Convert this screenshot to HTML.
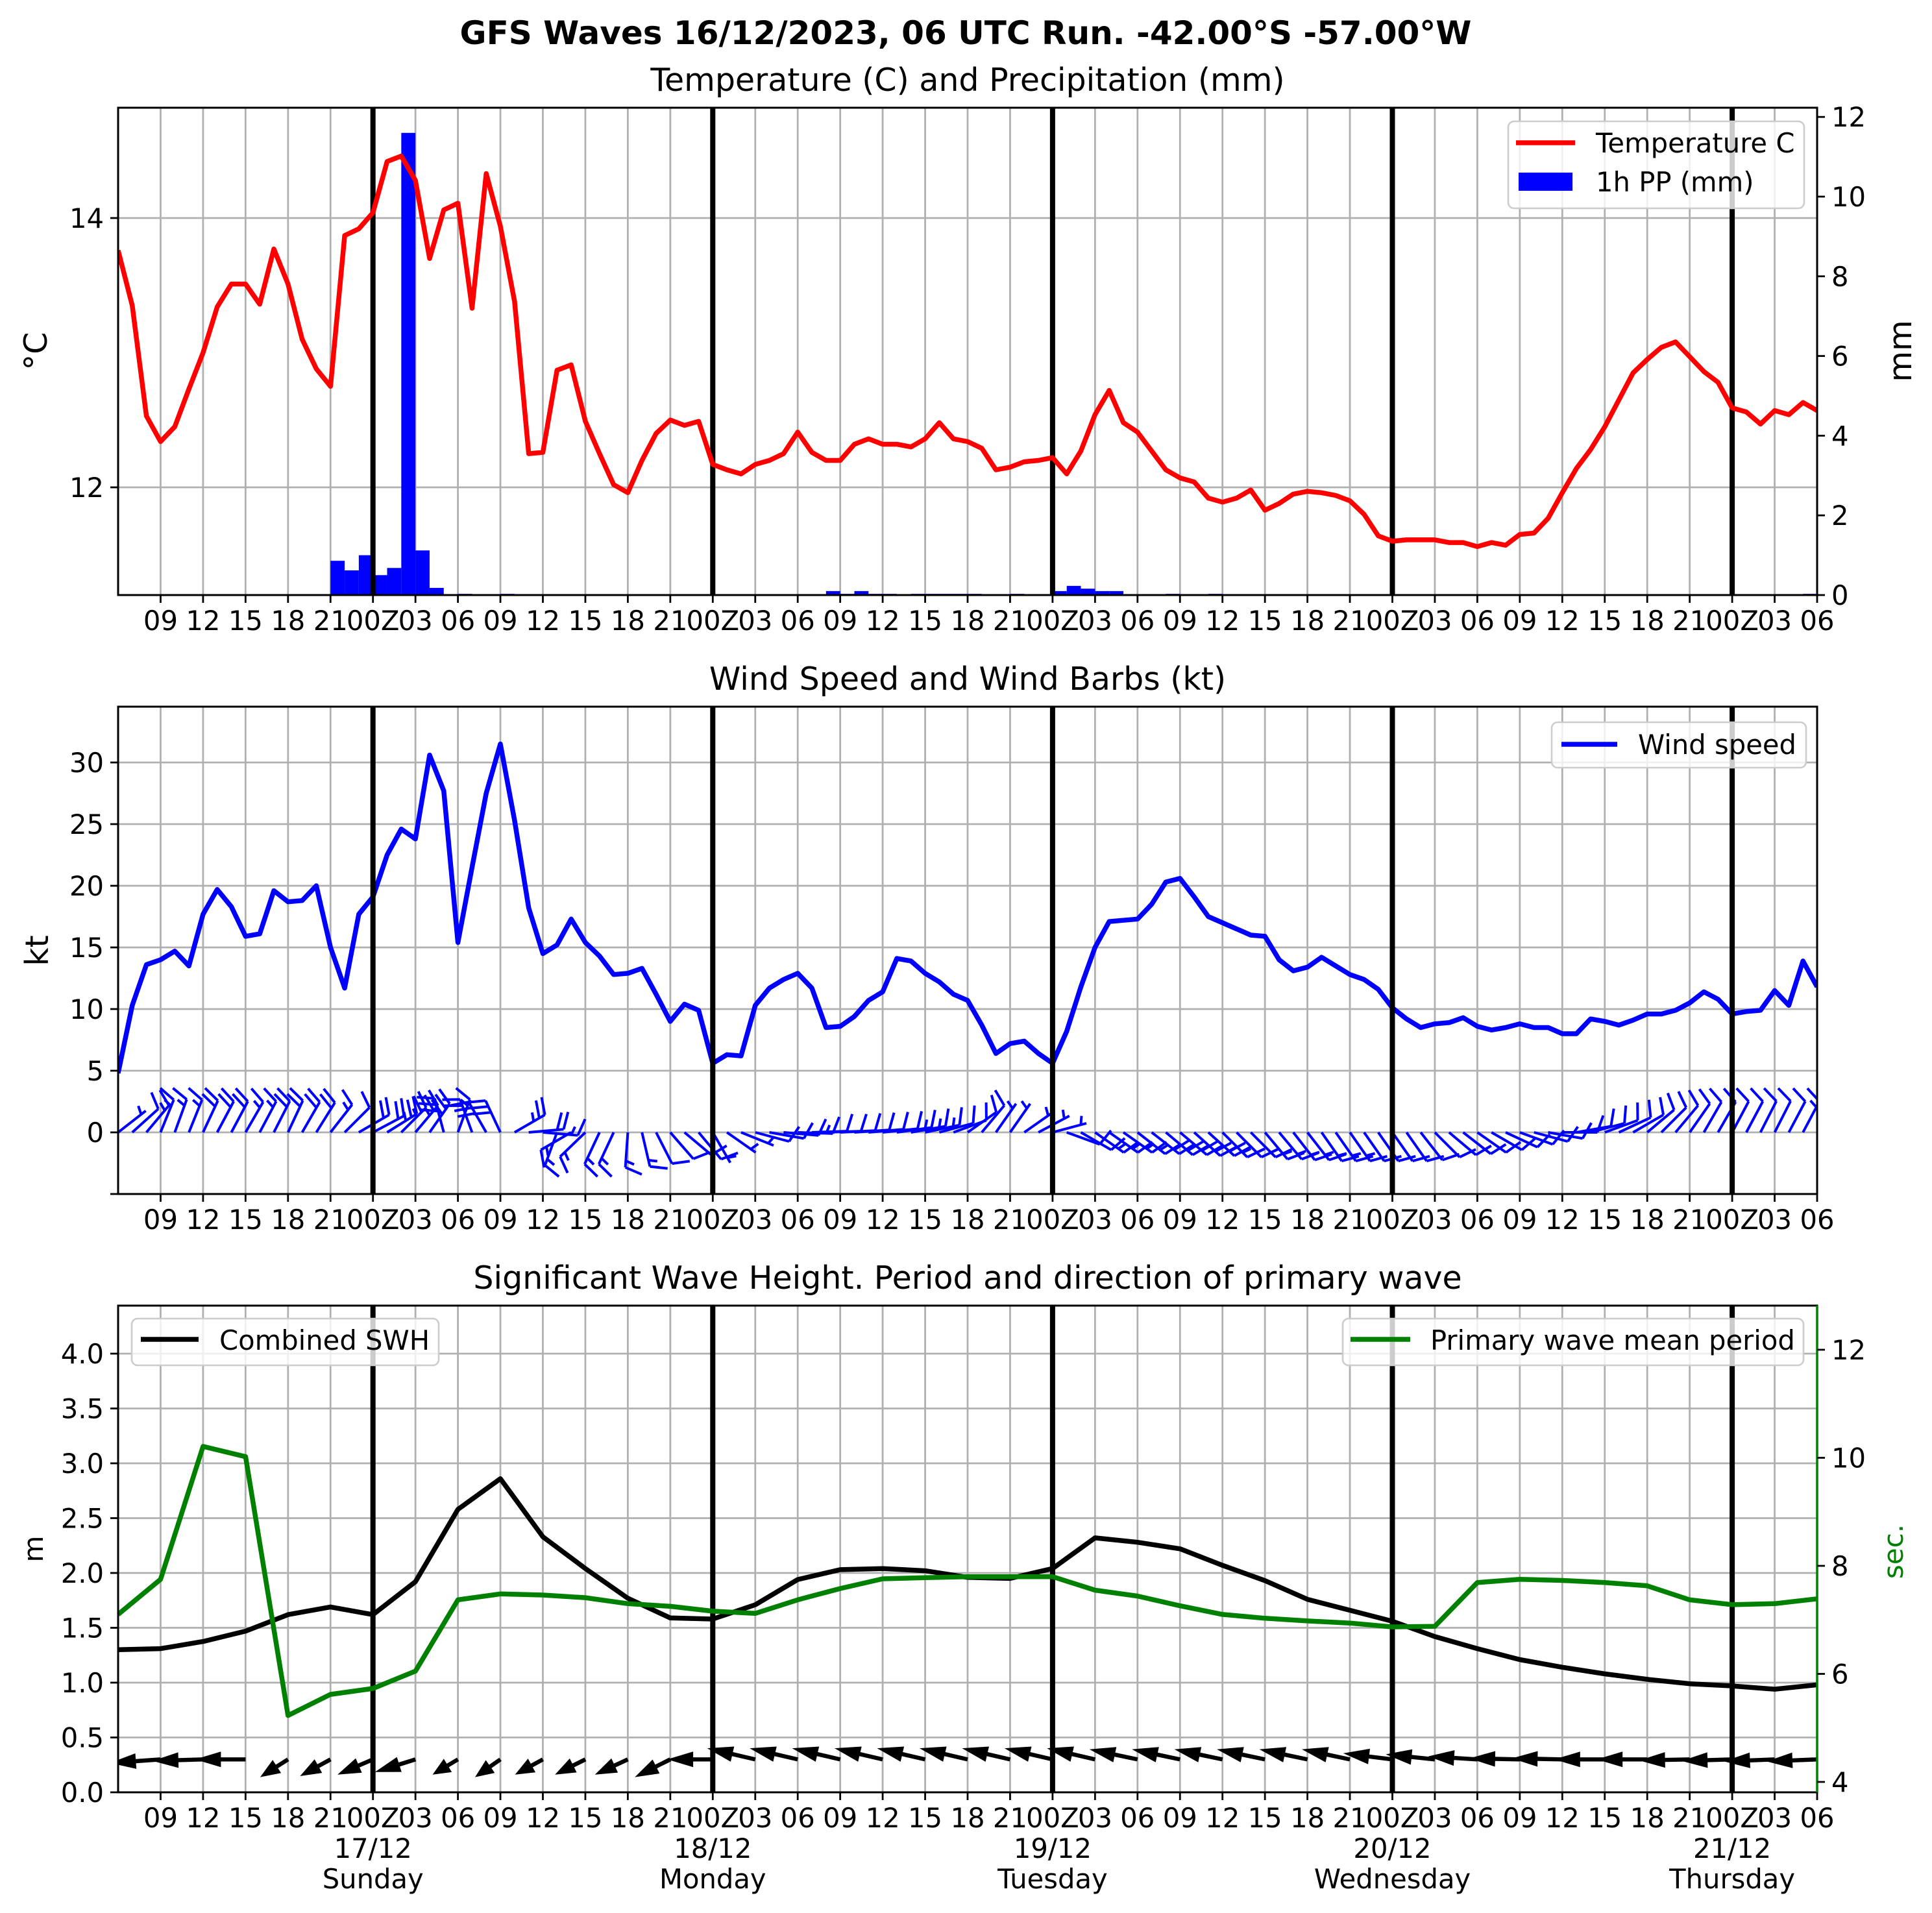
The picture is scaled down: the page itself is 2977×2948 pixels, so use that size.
<!DOCTYPE html>
<html><head><meta charset="utf-8"><style>
html,body{margin:0;padding:0;background:#fff;}
svg{display:block;font-family:"DejaVu Sans","Liberation Sans",sans-serif;}
</style></head>
<body>
<svg id="fig" xmlns="http://www.w3.org/2000/svg" width="2977" height="2948" viewBox="0 0 2977 2948">
<rect x="0" y="0" width="2977" height="2948" fill="#fff"/>
<text x="1488" y="68" text-anchor="middle" font-size="50" font-weight="bold">GFS Waves 16/12/2023, 06 UTC Run. -42.00°S -57.00°W</text>
<text x="1491" y="140" text-anchor="middle" font-size="49">Temperature (C) and Precipitation (mm)</text>
<text x="1491" y="1063" text-anchor="middle" font-size="49">Wind Speed and Wind Barbs (kt)</text>
<text x="1491" y="1986" text-anchor="middle" font-size="49">Significant Wave Height. Period and direction of primary wave</text>
<text transform="translate(72,541) rotate(-90)" text-anchor="middle" font-size="49">°C</text>
<text transform="translate(2945,541) rotate(-90)" text-anchor="middle" font-size="49">mm</text>
<text transform="translate(74,1465) rotate(-90)" text-anchor="middle" font-size="49">kt</text>
<text transform="translate(66,2387) rotate(-90)" text-anchor="middle" font-size="42">m</text>
<text transform="translate(2932,2391) rotate(-90)" text-anchor="middle" font-size="42" fill="#008000">sec.</text>
<defs>
<clipPath id="c1"><rect x="182" y="166" width="2618" height="751"/></clipPath>
<clipPath id="c2"><rect x="182" y="1089" width="2618" height="751"/></clipPath>
<clipPath id="c3"><rect x="182" y="2012" width="2618" height="750"/></clipPath>
</defs>
<g id="g1" clip-path="url(#c1)"></g>
<g id="g2" clip-path="url(#c2)"></g>
<g id="g3" clip-path="url(#c3)"></g>
<g id="axes"></g>
</svg>
<script>
// ---------- data ----------
const temps = [13.76,13.35,12.53,12.34,12.45,12.73,13.0,13.34,13.51,13.51,13.36,13.77,13.51,13.10,12.88,12.75,13.87,13.92,14.04,14.42,14.46,14.28,13.70,14.06,14.11,13.33,14.33,13.94,13.38,12.25,12.26,12.87,12.91,12.49,12.25,12.02,11.96,
12.2,12.40,12.50,12.46,12.49,12.17,12.13,12.10,12.17,12.20,12.25,12.41,12.26,12.20,12.20,12.32,12.36,12.32,12.32,12.30,12.36,12.48,12.36,12.34,12.29,12.13,12.15,12.19,12.20,12.22,12.10,12.27,12.54,12.72,12.48,12.41,12.27,12.13,12.07,12.04,11.92,11.89,
11.92,11.98,11.83,11.88,11.95,11.97,11.96,11.94,11.90,11.80,11.64,11.60,11.61,11.61,11.61,11.59,11.59,11.56,11.59,11.57,11.65,11.66,11.77,11.96,12.14,12.28,12.45,12.65,12.85,12.95,13.04,13.08,12.97,12.86,12.78,12.59,12.56,12.47,12.57,12.54,12.63,12.57];
const precipHours = [15,16,17,18,19,20,21,22,24,27,50,51,52,53,54,56,57,58,59,60,63,66,67,68,69,70,74,77,119];
const precipVals = [0.86,0.62,1.0,0.5,0.68,11.6,1.12,0.18,0.03,0.03,0.1,0.03,0.1,0.03,0.03,0.03,0.03,0.03,0.03,0.03,0.03,0.1,0.23,0.16,0.1,0.1,0.03,0.03,0.03];
const windSpeed = [4.8,10.3,13.6,14.0,14.7,13.5,17.7,19.7,18.3,15.9,16.1,19.6,18.7,18.8,20.0,15.0,11.7,17.7,19.1,22.5,24.6,23.8,30.6,27.7,15.4,21.5,27.5,31.5,25.3,18.2,14.5,15.2,17.3,15.4,14.3,12.8,12.9,13.3,
11.2,9.0,10.4,9.9,5.6,6.3,6.2,10.3,11.7,12.4,12.9,11.7,8.5,8.6,9.4,10.7,11.4,14.1,13.9,12.9,12.2,11.2,10.7,8.7,6.4,7.2,7.4,6.4,5.6,8.2,11.8,15.0,17.1,17.2,17.3,18.5,20.3,20.6,19.1,17.5,17.0,16.5,16.0,15.9,14.0,13.1,13.4,14.2,13.5,12.8,12.4,11.6,10.1,9.2,8.5,8.8,8.9,9.3,8.6,8.3,8.5,8.8,8.5,8.5,8.0,8.0,9.2,9.0,8.7,9.1,9.6,9.6,9.9,10.5,11.4,10.8,9.6,9.8,9.9,11.5,10.3,13.9,11.8];
const windDir = [52,48,40,
22,20,22,25,28,28,30,28,27,25,30,32,38,45,
60,62,58,45,40,35,
345,20,340,330,335,
60,85,95,
200,240,226,205,205,184,167,153,139,130,140,150,125,112,105,100,95,92,
88,88,87,86,85,84,82,80,78,75,
70,55,40,35,35,55,62,75,110,120,
125,125,125,128,128,130,130,132,132,135,135,135,
140,140,142,142,145,145,145,145,145,145,145,142,
135,130,128,125,120,115,110,105,100,
90,80,75,70,65,60,50,45,40,35,
30,30,28,28,27,27,28,28,30];
const waveHeight = [1.30,1.31,1.375,1.47,1.62,1.69,1.62,1.92,2.58,2.86,2.33,2.04,1.77,1.59,1.58,1.71,1.94,2.03,2.04,2.02,1.96,1.95,2.04,2.32,2.28,2.22,2.07,1.93,1.76,1.66,1.56,1.42,1.31,1.21,1.14,1.08,1.03,0.99,0.97,0.94,0.98];
const wavePeriod = [7.10,7.75,10.21,10.02,5.23,5.62,5.73,6.05,7.37,7.48,7.46,7.41,7.30,7.25,7.16,7.12,7.37,7.58,7.76,7.78,7.8,7.8,7.8,7.55,7.44,7.26,7.1,7.03,6.98,6.94,6.87,6.88,7.69,7.75,7.73,7.69,7.63,7.37,7.28,7.30,7.39];
const waveU = [-1,-1,-1,-1,-0.55,-0.6,-0.7,-0.8,-0.5,-0.5,-0.55,-0.6,-0.65,-0.7,-0.9,-0.95,-0.95,-0.95,-0.95,-0.95,-0.95,-0.95,-0.95,-0.95,-0.95,-0.95,-0.95,-0.95,-0.95,-0.95,-0.97,-0.97,-0.97,-1,-1,-1,-1,-1,-1,-1,-1];
const waveV = [-0.08,-0.07,-0.03,0,-0.35,-0.33,-0.3,-0.25,-0.3,-0.35,-0.3,-0.3,-0.3,-0.35,0,0.22,0.22,0.22,0.22,0.22,0.22,0.22,0.22,0.22,0.2,0.2,0.2,0.2,0.2,0.2,0.12,0.1,0.06,0.02,0.02,0.0,0.0,-0.02,-0.03,-0.04,-0.04];
const xTickLabels = ["","09","12","15","18","21","00Z","03","06","09","12","15","18","21","00Z","03","06","09","12","15","18","21","00Z","03","06","09","12","15","18","21","00Z","03","06","09","12","15","18","21","00Z","03","06"];
const dayLabels = ["17/12","18/12","19/12","20/12","21/12"];
const dayNames = ["Sunday","Monday","Tuesday","Wednesday","Thursday"];
const tempTicks = [12,14];
const mmTicks = [0,2,4,6,8,10,12];
const ktTicks = [0,5,10,15,20,25,30];
const mTicks = [0.0,0.5,1.0,1.5,2.0,2.5,3.0,3.5,4.0];
const secTicks = [4,6,8,10,12];

// ---------- scales ----------
const X0=182, X1=2800, HRS=120;
function sx(h){return X0+(X1-X0)*h/HRS;}
function yT(t){return 336+(14-t)*207.5;}
function yP(mm){return 917-mm*61.4;}
function yW(k){return 1745-k*19;}
function yM(m){return 2762-m*169;}
function yS(s){return 2746-(s-4)*83.25;}
const P=[{top:166,bot:917},{top:1089,bot:1840},{top:2012,bot:2762}];
const NS="http://www.w3.org/2000/svg";
const LW=7.5;
function mk(tag,attrs,parent){const e=document.createElementNS(NS,tag);for(const k in attrs)e.setAttribute(k,attrs[k]);parent.appendChild(e);return e;}
const g=[document.getElementById('g1'),document.getElementById('g2'),document.getElementById('g3')];
const ax=document.getElementById('axes');

// ---------- grids ----------
for(let p=0;p<3;p++){
  for(let k=1;k<=40;k++){
    const h=3*k;
    const ln=mk('line',{x1:sx(h),x2:sx(h),y1:P[p].top,y2:P[p].bot,stroke:'#b0b0b0','stroke-width':2.8},g[p]);
    
    
  }
}
function hgrid(p,ys){ys.forEach(y=>{const ln=mk('line',{x1:X0,x2:X1,y1:y,y2:y,stroke:'#b0b0b0','stroke-width':2.8},g[p]);

});}
hgrid(0,tempTicks.map(yT));
hgrid(1,ktTicks.map(yW));
hgrid(2,mTicks.map(yM));

// ---------- panel 1 ----------
precipHours.forEach((h,i)=>{
  const r=mk('rect',{x:sx(h),y:yP(precipVals[i]),width:sx(h+1)-sx(h),height:917-yP(precipVals[i]),fill:'#0000ff'},g[0]);
  
  
});
function dayLines(p){for(let h=18;h<=HRS;h+=24){const ln=mk('line',{x1:sx(h),x2:sx(h),y1:P[p].top,y2:P[p].bot,stroke:'#000','stroke-width':8},g[p]);

}}
dayLines(0);
{
  const pts=temps.map((t,i)=>sx(i).toFixed(1)+','+yT(t).toFixed(1)).join(' ');
  const pl=mk('polyline',{points:pts,fill:'none',stroke:'#ff0000','stroke-width':LW,'stroke-linejoin':'round'},g[0]);
  
  
}
// ---------- panel 2 ----------
{
  const pts=windSpeed.map((s,i)=>sx(i).toFixed(1)+','+yW(s).toFixed(1)).join(' ');
  const pl=mk('polyline',{points:pts,fill:'none',stroke:'#0000ff','stroke-width':LW,'stroke-linejoin':'round'},g[1]);
  
  
}
windSpeed.forEach((s,i)=>{
  const d=windDir[i]*Math.PI/180;
  const bx=sx(i), by=yW(0);
  const dx=Math.sin(d), dy=-Math.cos(d);
  const px=-Math.cos(d), py=-Math.sin(d);
  const L=54, TL=26;
  const tx=bx+dx*L, ty=by+dy*L;
  let path='M'+bx.toFixed(1)+' '+by.toFixed(1)+'L'+tx.toFixed(1)+' '+ty.toFixed(1);
  let r=Math.round(s/5)*5;
  let pos=0;
  const full=Math.floor(r/10), half=(r%10)>=5?1:0;
  for(let f=0;f<full;f++){
    const sx0=tx-dx*pos, sy0=ty-dy*pos;
    path+='M'+sx0.toFixed(1)+' '+sy0.toFixed(1)+'L'+(sx0+px*TL+dx*TL*0.35).toFixed(1)+' '+(sy0+py*TL+dy*TL*0.35).toFixed(1);
    pos+=10;
  }
  if(half){
    if(full===0)pos=9;
    const sx0=tx-dx*pos, sy0=ty-dy*pos;
    path+='M'+sx0.toFixed(1)+' '+sy0.toFixed(1)+'L'+(sx0+px*TL*0.5+dx*TL*0.18).toFixed(1)+' '+(sy0+py*TL*0.5+dy*TL*0.18).toFixed(1);
  }
  const b=mk('path',{d:path,fill:'none',stroke:'#0000ff','stroke-width':4},g[1]);
  
  
});
dayLines(1);
// ---------- panel 3 ----------
dayLines(2);
{
  const pts=waveHeight.map((m,i)=>sx(3*i).toFixed(1)+','+yM(m).toFixed(1)).join(' ');
  const pl=mk('polyline',{points:pts,fill:'none',stroke:'#000','stroke-width':LW,'stroke-linejoin':'round'},g[2]);
  
  
  const pts2=wavePeriod.map((s,i)=>sx(3*i).toFixed(1)+','+yS(s).toFixed(1)).join(' ');
  const pl2=mk('polyline',{points:pts2,fill:'none',stroke:'#008000','stroke-width':LW,'stroke-linejoin':'round'},g[2]);
  
  
}
waveU.forEach((u,i)=>{
  const S=78;
  const tx=sx(3*i), ty=yM(0.3);
  const ex=tx+u*S, ey=ty-waveV[i]*S;
  const len=Math.hypot(ex-tx,ey-ty);
  const ux=(ex-tx)/len, uy=(ey-ty)/len;
  const nx=-uy, ny=ux;
  const hl=Math.min(40,len*0.6), sw=3.2, hw=12;
  const bx=ex-ux*hl, by=ey-uy*hl;
  const pts=[[tx+nx*sw,ty+ny*sw],[bx+nx*sw,by+ny*sw],[bx+nx*hw,by+ny*hw],[ex,ey],[bx-nx*hw,by-ny*hw],[bx-nx*sw,by-ny*sw],[tx-nx*sw,ty-ny*sw]];
  const a=mk('polygon',{points:pts.map(p=>p[0].toFixed(1)+','+p[1].toFixed(1)).join(' '),fill:'#000'},g[2]);
  
  
});

// ---------- axes, ticks, labels ----------
for(let p=0;p<3;p++){
  const fr=mk('rect',{x:X0,y:P[p].top,width:X1-X0,height:P[p].bot-P[p].top,fill:'none',stroke:'#000','stroke-width':3},ax);
  
  
  for(let k=1;k<=40;k++){
    const x=sx(3*k);
    const t=mk('line',{x1:x,x2:x,y1:P[p].bot,y2:P[p].bot+12,stroke:'#000','stroke-width':2.8},ax);
    
    
    const tl=mk('text',{x:x,y:P[p].bot+54,'text-anchor':'middle','font-size':41.7},ax);
    
    
    tl.textContent=xTickLabels[k];
  }
}
{
  const rs=mk('line',{x1:X1,x2:X1,y1:P[2].top,y2:P[2].bot,stroke:'#008000','stroke-width':3.5},ax);
  
  
}
function yTicks(vals,fy,side,fmt){
  vals.forEach(v=>{
    const y=fy(v);
    const x1=side<0?X0-12:X1, x2=side<0?X0:X1+12;
    const t=mk('line',{x1:x1,x2:x2,y1:y,y2:y,stroke:'#000','stroke-width':2.8},ax);
    
    
    const tl=mk('text',{x:side<0?X0-22:X1+22,y:y+15,'text-anchor':side<0?'end':'start','font-size':41.7},ax);
    
    
    tl.textContent=fmt(v);
  });
}
yTicks(tempTicks,yT,-1,v=>String(v));
yTicks(mmTicks,yP,1,v=>String(v));
yTicks(ktTicks,yW,-1,v=>String(v));
{
  const t=mk('line',{x1:X0-12,x2:X0,y1:yW(-5),y2:yW(-5),stroke:'#000','stroke-width':2.8},ax);
  
  
}
yTicks(mTicks,yM,-1,v=>v.toFixed(1));
yTicks(secTicks,yS,1,v=>String(v));
dayLabels.forEach((lab,i)=>{
  const x=sx(18+24*i);
  const t1=mk('text',{x:x,y:2863,'text-anchor':'middle','font-size':41.7},ax);
  
  
  t1.textContent=lab;
  const t2=mk('text',{x:x,y:2910,'text-anchor':'middle','font-size':41.7},ax);
  
  
  t2.textContent=dayNames[i];
});

// ---------- legends ----------
function legendBox(x,y,w,h,name){const r=mk('rect',{x:x,y:y,width:w,height:h,rx:9,fill:'#fff','fill-opacity':0.8,stroke:'#cccccc','stroke-width':2.6},ax);

}
function legendLine(x1,x2,y,color,name){const l=mk('line',{x1:x1,x2:x2,y1:y,y2:y,stroke:color,'stroke-width':LW},ax);

}
function legendText(x,y,txt,name){const t=mk('text',{x:x,y:y,'font-size':41.7},ax);


t.textContent=txt;}
legendBox(2324,187,456,134,'temperature-legend');
legendLine(2336,2427,220,'#ff0000','legend-temperature-swatch');
legendText(2459,235,'Temperature C','legend-temperature-label');
{const r=mk('rect',{x:2340,y:266,width:83,height:28,fill:'#0000ff'},ax);

}
legendText(2459,295,'1h PP (mm)','legend-precip-label');
legendBox(2391,1113,392,70,'wind-legend');
legendLine(2406,2492,1147,'#0000ff','legend-wind-swatch');
legendText(2524,1162,'Wind speed','legend-wind-label');
legendBox(203,2032,473,72,'swh-legend');
legendLine(217,306,2064,'#000','legend-swh-swatch');
legendText(338,2080,'Combined SWH','legend-swh-label');
legendBox(2069,2032,710,72,'period-legend');
legendLine(2081,2173,2064,'#008000','legend-period-swatch');
legendText(2204,2080,'Primary wave mean period','legend-period-label');
</script>
</body></html>
